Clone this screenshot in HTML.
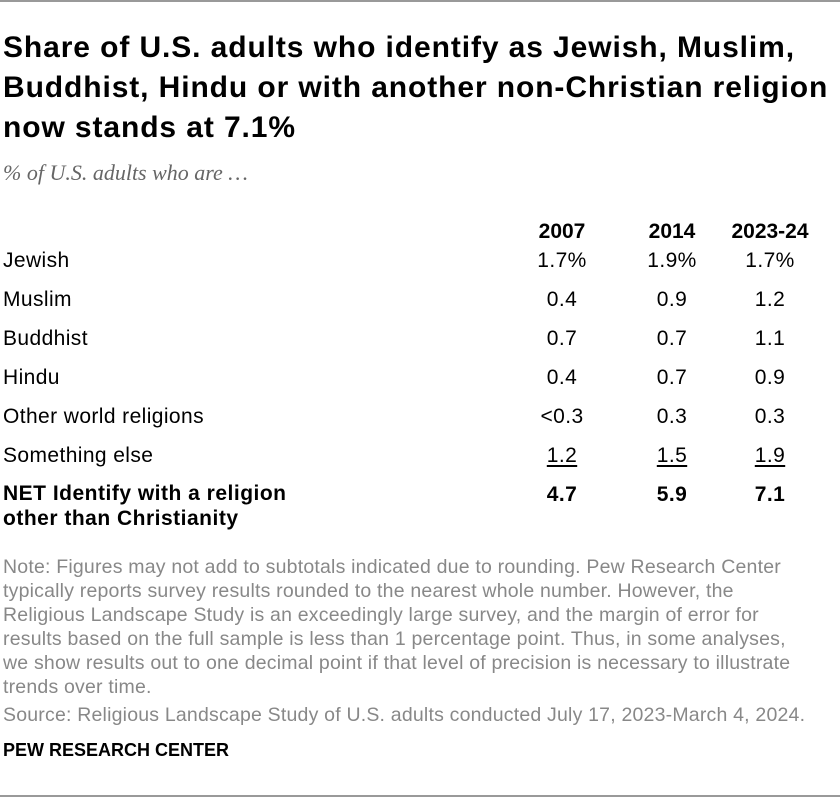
<!DOCTYPE html>
<html><head><meta charset="utf-8">
<style>
body{margin:0;width:840px;height:798px;background:#fff;position:relative;overflow:hidden;font-family:"Liberation Sans",sans-serif;color:#000}
.abs{position:absolute;white-space:nowrap}
.title{left:3px;top:28px;font-size:30px;font-weight:bold;line-height:40px;letter-spacing:0.9px}
.sub{left:3px;top:160px;font-family:"Liberation Serif",serif;font-style:italic;font-size:22px;color:#666}
.hdr{font-weight:bold;font-size:21px;top:220px;transform:translateX(-50%)}
.lbl{left:3px;font-size:21px;letter-spacing:0.4px}
.val{font-size:21px;letter-spacing:0.4px;transform:translateX(-50%)}
.u{text-decoration:underline;text-underline-offset:3px}
.note{left:3px;top:555px;font-size:19.5px;letter-spacing:0.2px;line-height:24px;color:#888;white-space:normal;width:832px}
.pew{left:3px;top:740px;font-size:18px;font-weight:bold}
.rule{position:absolute;left:0;width:840px;height:2px;background:#999}
</style></head><body>
<div class="rule" style="top:0"></div>
<div class="abs title">Share of U.S. adults who identify as Jewish, Muslim,<br>Buddhist, Hindu or with another non-Christian religion<br>now stands at 7.1%</div>
<div class="abs sub">% of U.S. adults who are …</div>
<div id="tbl"></div>
<div class="abs note">Note: Figures may not add to subtotals indicated due to rounding. Pew Research Center<br>typically reports survey results rounded to the nearest whole number. However, the<br>Religious Landscape Study is an exceedingly large survey, and the margin of error for<br>results based on the full sample is less than 1 percentage point. Thus, in some analyses,<br>we show results out to one decimal point if that level of precision is necessary to illustrate<br>trends over time.<br><span style="display:inline-block;margin-top:4px">Source: Religious Landscape Study of U.S. adults conducted July 17, 2023-March 4, 2024.</span></div>
<div class="abs pew">PEW RESEARCH CENTER</div>
<div class="rule" style="top:795px"></div>
<script>
const years=["2007","2014","2023-24"];
const categories=["Jewish","Muslim","Buddhist","Hindu","Other world religions","Something else"];
const v2007=["1.7%","0.4","0.7","0.4","<0.3","1.2"];
const v2014=["1.9%","0.9","0.7","0.7","0.3","1.5"];
const v2023=["1.7%","1.2","1.1","0.9","0.3","1.9"];
const netValues=["4.7","5.9","7.1"];
const colX=[562,672,770];
const tbl=document.getElementById('tbl');
function add(cls,text,x,y,name,html){
  const d=document.createElement('div');
  d.className='abs '+cls;
  if(html)d.innerHTML=text;else d.textContent=text;
  d.style.top=y+'px';
  if(x!==null)d.style.left=x+'px';
  
  
  tbl.appendChild(d);return d;
}
years.forEach((y,i)=>add('hdr',y,colX[i],220,'column-header-'+y));
const series=[v2007,v2014,v2023];
categories.forEach((c,r)=>{
  const y=249+r*39;
  add('lbl',c,null,y,'row-label');
  series.forEach((s,i)=>{
    add('val'+(r===categories.length-1?' u':''),s[r],colX[i],y,'cell-value');
  });
});
const ny=249+categories.length*39;
const l=add('lbl','NET Identify with a religion<br>other than Christianity',null,ny,'net-row-label',true);
l.style.fontWeight='bold';l.style.lineHeight='25px';l.style.top=(ny-2)+'px';l.style.letterSpacing='0.5px';
netValues.forEach((v,i)=>{const d=add('val',v,colX[i],ny,'net-value');d.style.fontWeight='bold';});
</script>
</body></html>
